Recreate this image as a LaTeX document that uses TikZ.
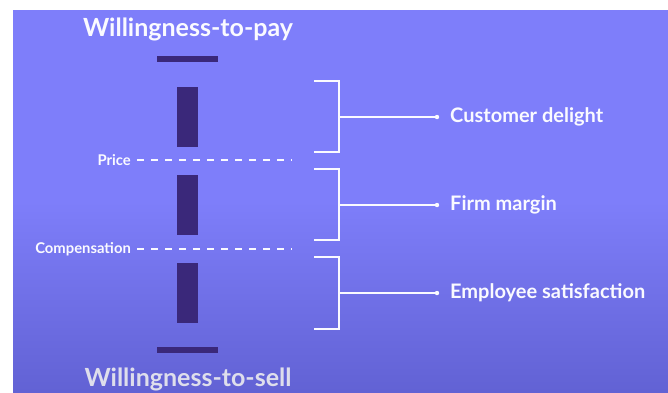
\documentclass[tikz,border=0pt]{standalone}
\usepackage{fontspec}
\setmainfont{Lato}
\definecolor{bgtop}{RGB}{126,126,250}
\definecolor{bgbot}{RGB}{98,98,212}
\definecolor{bar}{RGB}{58,40,122}
\definecolor{labelwhite}{RGB}{250,250,255}
\definecolor{softwhite}{RGB}{222,222,236}
\begin{document}
\begin{tikzpicture}[x=1pt,y=-1pt,
  barshape/.style={fill=bar,draw=none},
  title/.style={font=\bfseries\fontsize{25}{30}\selectfont,text=labelwhite,inner sep=0pt},
  level/.style={font=\bfseries\fontsize{14.8}{17}\selectfont,text=labelwhite,inner sep=0pt,anchor=east},
  share/.style={font=\bfseries\fontsize{20}{24}\selectfont,text=labelwhite,inner sep=0pt,anchor=west},
  guide/.style={draw=labelwhite,line width=1.8pt,dash pattern=on 7pt off 7pt},
  brace/.style={draw=labelwhite,line width=1.8pt},
  lead/.style={draw=labelwhite,line width=1.5pt}]
\useasboundingbox (0,0) rectangle (668,392);
\fill[white] (0,0) rectangle (668,392);
\shade[top color=bgtop,bottom color=bgbot,middle color=bgtop] (13,10) rectangle (668,392);

% titles
\node[title] (wtp) at (188,29) {Willingness-to-pay};
\node[title,text=softwhite] (wts) at (188,379) {Willingness-to-sell};

% bars
\fill[barshape] (157,56) rectangle (218,62);
\fill[barshape] (177,87) rectangle (198,147);
\fill[barshape] (177,175) rectangle (198,235);
\fill[barshape] (177,263) rectangle (198,323);
\fill[barshape] (157,347) rectangle (218,353);

% price and compensation levels
\node[level] (price) at (131,160) {Price};
\coordinate (priceend) at (292,160);
\draw[guide] ([xshift=6pt]price.east) -- (priceend);
\node[level] (comp) at (131,249) {Compensation};
\coordinate (compend) at (292,249);
\draw[guide] ([xshift=6pt]comp.east) -- (compend);

% brackets with leaders
\foreach \top/\mid/\bot/\name/\txt in {81/117/152/cd/Customer delight,169/205/240/fm/Firm margin,257/293/329/es/Employee satisfaction}{
  \draw[brace] (314,\top) -- (339,\top) -- (339,\bot) -- (314,\bot);
  \node[share] (\name) at (450,\mid) {\txt};
  \coordinate (\name-dot) at (437,\mid);
  \draw[lead] (339,\mid) -- (\name-dot);
  \fill[labelwhite] (\name-dot) circle (2.2pt);
}
\end{tikzpicture}
\end{document}
